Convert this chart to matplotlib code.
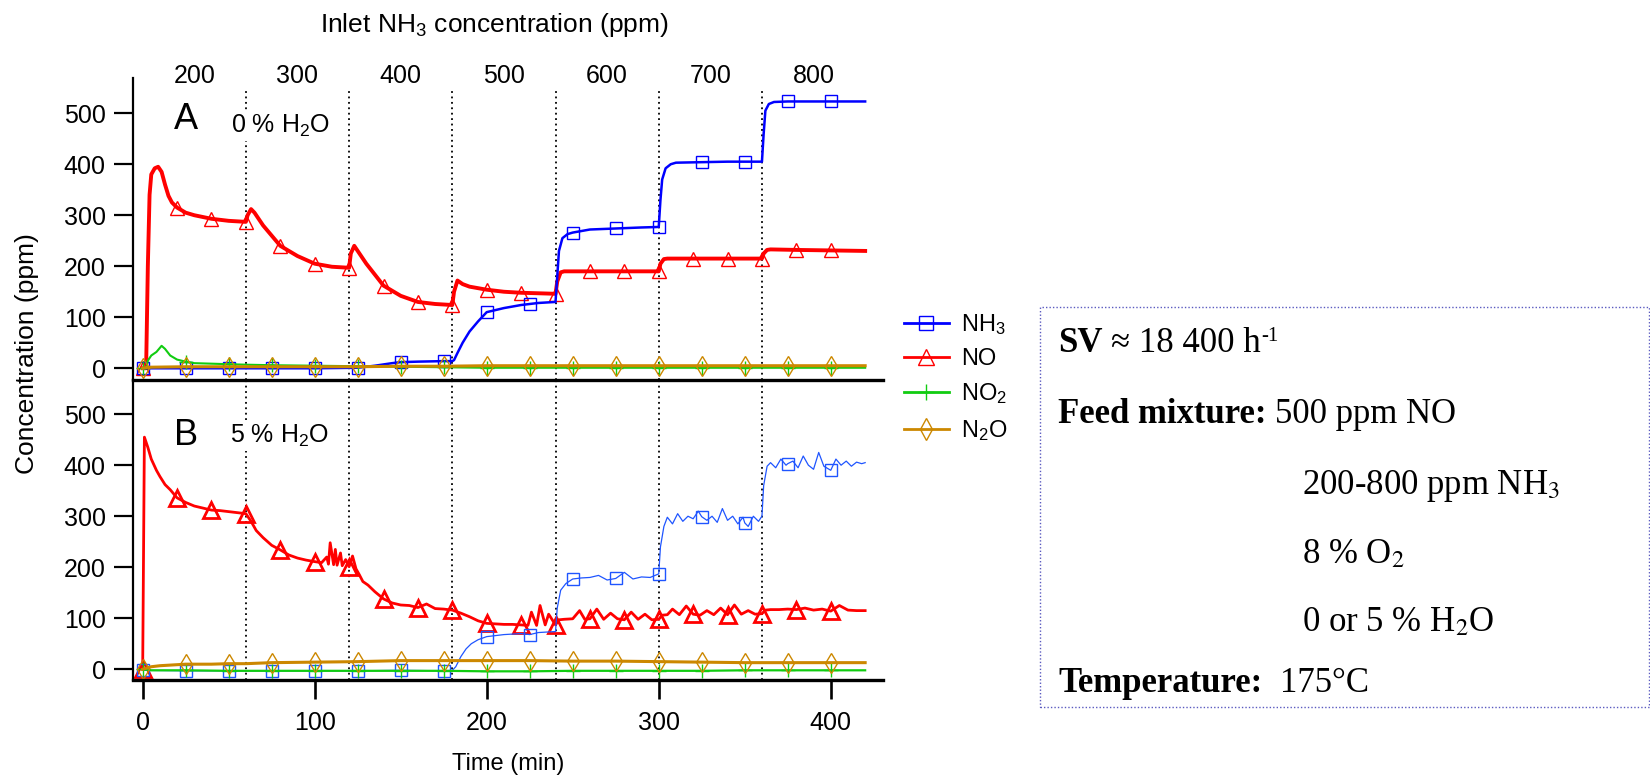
import numpy as np
import matplotlib
matplotlib.use("Agg")
import matplotlib.pyplot as plt
from matplotlib.lines import Line2D
from matplotlib.patches import Rectangle

# ---------------- data ----------------
inlet_labels = ["200", "300", "400", "500", "600", "700", "800"]
inlet_centers = [30, 90, 150, 210, 270, 330, 390]
step_times = [60, 120, 180, 240, 300, 360]

# Panel A (0 % H2O)
tA_nh3 = [0, 25, 50, 75, 100, 125, 135, 145, 150, 160, 175, 180, 181, 183, 186, 190, 195,
          200, 210, 220, 225, 230, 240, 241, 242, 244, 247, 250, 260, 275, 290, 300, 301,
          302, 304, 307, 310, 325, 340, 350, 360, 361, 362, 364, 367, 375, 400, 420]
yA_nh3 = [0, 0, 0, 0, 0, 1, 5, 10, 12, 13, 14, 14, 16, 30, 50, 72, 92,
          110, 118, 124, 126, 128, 130, 180, 230, 255, 263, 266, 272, 274, 276, 277, 330,
          370, 392, 400, 403, 404, 405, 405, 405, 460, 505, 518, 522, 523, 523, 523]

tA_no = [0, 2, 3, 4, 5, 7, 9, 11, 13, 15, 17, 20, 25, 30, 40, 50, 60, 61, 63, 65, 70, 80, 90,
         100, 110, 120, 121, 123, 125, 130, 140, 150, 160, 170, 180, 181, 183, 186, 190, 200,
         210, 220, 230, 240, 241, 243, 245, 260, 280, 300, 301, 303, 305, 320, 340, 360, 361,
         363, 365, 380, 400, 420]
yA_no = [0, 0, 200, 340, 380, 392, 395, 385, 360, 338, 325, 315, 305, 300, 293, 289, 287, 300,
         312, 305, 280, 240, 220, 205, 199, 197, 225, 240, 230, 205, 162, 142, 130, 126, 124,
         150, 172, 165, 160, 154, 150, 148, 147, 146, 170, 188, 190, 190, 190, 190, 205, 214,
         215, 215, 215, 215, 225, 232, 233, 232, 231, 230]

tA_no2 = [0, 2, 3, 5, 8, 11, 13, 16, 20, 25, 30, 40, 50, 60, 75, 100, 125, 150, 175, 200, 225,
          250, 275, 300, 325, 350, 375, 400, 420]
yA_no2 = [0, 0, 15, 25, 32, 44, 38, 25, 17, 13, 10, 9, 8, 7, 6, 5, 4, 3, 2, 1, 1,
          1, 1, 1, 1, 1, 1, 1, 1]

tA_n2o = [0, 3, 25, 50, 75, 100, 125, 150, 175, 200, 225, 250, 275, 300, 325, 350, 375, 400, 420]
yA_n2o = [0, 2, 3, 3, 3, 3, 3, 4, 4, 5, 5, 5, 5, 5, 5, 5, 5, 5, 5]

# Panel B (5 % H2O)
tB_nh3 = [0, 25, 50, 75, 100, 125, 150, 175, 180, 182, 185, 188, 191, 195, 200, 205, 210, 220,
          225, 230, 240, 241, 243, 246, 250, 255, 260, 265, 270, 275, 280, 285, 290, 295, 300,
          301, 303, 305, 308, 311, 314, 317, 320, 323, 325, 328, 331, 334, 337, 340, 343, 346,
          349, 350, 352, 355, 358, 360, 361, 363, 365, 368, 371, 374, 375, 378, 381, 384, 387,
          390, 393, 396, 400, 403, 406, 409, 412, 415, 418, 420]
yB_nh3 = [-2, -3, -3, -3, -3, -3, -2, -3, -2, 5, 25, 40, 50, 58, 64, 66, 68, 70,
          68, 72, 74, 120, 155, 168, 177, 179, 180, 184, 175, 178, 190, 177, 181, 180, 187,
          240, 280, 298, 285, 305, 290, 300, 295, 310, 299, 292, 300, 288, 315, 292, 300, 285,
          298, 287, 280, 300, 290, 300, 360, 398, 405, 395, 412, 400, 403, 408, 395, 418, 400,
          392, 425, 398, 390, 412, 400, 408, 398, 406, 403, 405]

tB_no = [0, 1, 3, 5, 8, 10, 13, 16, 20, 25, 30, 35, 40, 45, 50, 55, 60, 63, 66, 70, 75, 80, 85,
         90, 95, 100, 104, 107, 108, 109, 111, 112, 113, 115, 116, 118, 120, 122, 124, 126, 128,
         131, 135, 140, 145, 150, 155, 160, 165, 170, 175, 180, 185, 190, 195, 200, 205, 210,
         215, 220, 224, 226, 229, 231, 234, 236, 240, 242, 245, 250, 254, 257, 260, 264, 268,
         272, 276, 280, 284, 288, 292, 296, 300, 302, 305, 308, 312, 316, 320, 324, 328, 332,
         336, 340, 344, 348, 352, 356, 360, 362, 365, 370, 375, 380, 385, 390, 395, 400, 405,
         410, 415, 420]
yB_no = [0, 455, 435, 412, 390, 378, 362, 352, 336, 327, 320, 316, 312, 311, 309, 307, 305, 290,
         272, 258, 243, 234, 224, 218, 214, 211, 209, 220, 206, 248, 205, 235, 204, 228, 203,
         215, 201, 222, 197, 185, 172, 165, 152, 138, 130, 126, 125, 121, 128, 119, 118, 116,
         110, 103, 95, 90, 89, 88, 88, 87, 86, 112, 86, 125, 87, 108, 87, 97, 98, 99, 115, 98,
         99, 118, 98, 110, 99, 97, 112, 98, 108, 97, 98, 106, 107, 118, 107, 124, 108, 106, 115,
         107, 120, 107, 126, 108, 115, 108, 109, 116, 117, 117, 118, 117, 120, 116, 118, 114,
         125, 116, 115, 115]

tB_no2 = [0, 5, 25, 50, 75, 100, 125, 150, 175, 200, 225, 250, 275, 300, 325, 350, 375, 400, 420]
yB_no2 = [0, -2, -2, -3, -3, -3, -3, -3, -3, -4, -4, -3, -3, -3, -3, -2, -2, -2, -2]

tB_n2o = [0, 5, 10, 15, 25, 40, 50, 60, 75, 100, 125, 150, 175, 200, 225, 250, 275, 300, 325,
          350, 375, 400, 420]
yB_n2o = [0, 5, 7, 8, 10, 10, 11, 11, 13, 14, 15, 17, 17, 17, 17, 16, 16, 15, 14, 13, 13, 13, 13]

species = ["NH$_3$", "NO", "NO$_2$", "N$_2$O"]

# ---------------- style ----------------
plt.rcParams["font.family"] = ["Liberation Sans", "DejaVu Sans"]
plt.rcParams["mathtext.fontset"] = "custom"
plt.rcParams["mathtext.rm"] = "Liberation Sans"
plt.rcParams["mathtext.it"] = "Liberation Sans:italic"
plt.rcParams["mathtext.bf"] = "Liberation Sans:bold"

W, H = 1650, 778
fig = plt.figure(figsize=(W / 100, H / 100), dpi=100)


def px_axes(left, top, right, bottom):
    return fig.add_axes([left / W, 1 - bottom / H, (right - left) / W, (bottom - top) / H])


axA = px_axes(132.7, 78, 882.7, 380)
axB = px_axes(132.7, 380, 882.7, 680)

C_NH3 = "#0000ff"
C_NH3B = "#1f55ff"
C_NO = "#ff0000"
C_NO2 = "#11cc11"
C_N2O = "#cc8800"


def series(ax, t, y, color, lw, marker, ms, mew, every, z=2):
    t = np.asarray(t, float)
    y = np.asarray(y, float)
    idx = [i for i, v in enumerate(t) if v % every == 0 and v <= 400]
    ax.plot(t, y, color=color, lw=lw, marker=marker, ms=ms, mew=mew, mfc="none",
            mec=color, markevery=idx, zorder=z, solid_joinstyle="round")


# Panel A
series(axA, tA_nh3, yA_nh3, C_NH3, 1.8, "s", 8.5, 1.0, 25, 2.2)
series(axA, tA_no, yA_no, C_NO, 2.8, "^", 10, 1.0, 20, 2.1)
series(axA, tA_no2, yA_no2, C_NO2, 1.5, "+", 10, 1.0, 25, 2.3)
series(axA, tA_n2o, yA_n2o, C_N2O, 2.2, "d", 10, 1.0, 25, 2.4)

# Panel B
series(axB, tB_nh3, yB_nh3, C_NH3B, 0.9, "s", 8.5, 1.0, 25, 2.2)
series(axB, tB_no, yB_no, C_NO, 2.0, "^", 11.5, 2.0, 20, 2.1)
series(axB, tB_no2, yB_no2, C_NO2, 1.6, "+", 10, 1.0, 25, 2.3)
series(axB, tB_n2o, yB_n2o, C_N2O, 2.2, "d", 10, 1.0, 25, 2.4)

for ax, ylim in ((axA, (-23, 569)), (axB, (-21, 567))):
    ax.set_xlim(-5.8, 430.2)
    ax.set_ylim(*ylim)
    ax.set_yticks([0, 100, 200, 300, 400, 500])
    for s in ("top", "right"):
        ax.spines[s].set_visible(False)
    ax.spines["left"].set_linewidth(1.6)
    ax.spines["bottom"].set_linewidth(2.4)
    ax.tick_params(axis="y", direction="out", length=13.5, width=1.6, labelsize=18, pad=6)
    ax.set_facecolor("none")

axA.vlines(step_times, -23, 543, colors="k", linestyles=(0, (1, 2)), lw=1.3, zorder=1)
axB.vlines(step_times, -21, 567, colors="k", linestyles=(0, (1, 2)), lw=1.3, zorder=1)

axA.tick_params(axis="x", bottom=False, labelbottom=False)
axB.set_xticks([0, 100, 200, 300, 400])
axB.tick_params(axis="x", direction="out", length=13.5, width=1.9, labelsize=18, pad=8.5)
axB.spines["top"].set_visible(False)

# top inlet-concentration labels
for c, lab in zip(inlet_centers, inlet_labels):
    axA.text(c, 1.005, lab, transform=axA.get_xaxis_transform(), ha="center", va="center",
             fontsize=18)

# panel annotations
axA.text(25, 487, "A", fontsize=26, ha="center", va="center", zorder=5)
axA.text(51.5, 461, "0 % H$_2$O", fontsize=18, ha="left", va="baseline", zorder=5,
         bbox=dict(fc="white", ec="none", pad=1.5))
axB.text(25, 459, "B", fontsize=26, ha="center", va="center", zorder=5)
axB.text(51, 443, "5 % H$_2$O", fontsize=18, ha="left", va="baseline", zorder=5,
         bbox=dict(fc="white", ec="none", pad=1.5))

# axis titles
fig.text(494 / W, 1 - 32 / H, "Inlet NH$_3$ concentration (ppm)", ha="center",
         va="baseline", fontsize=19)
fig.text(508.5 / W, 1 - 770 / H, "Time (min)", ha="center", va="baseline", fontsize=17)
fig.text(26.7 / W, 1 - 354 / H, "Concentration (ppm)", ha="center", va="center",
         rotation=90, fontsize=19)

# legend
handles = [
    Line2D([], [], color=C_NH3, lw=2.0, marker="s", ms=10, mfc="none", mec=C_NH3, mew=1.0),
    Line2D([], [], color=C_NO, lw=2.0, marker="^", ms=11, mfc="none", mec=C_NO, mew=1.0),
    Line2D([], [], color=C_NO2, lw=2.0, marker="+", ms=12, mfc="none", mec=C_NO2, mew=1.0),
    Line2D([], [], color=C_N2O, lw=2.0, marker="d", ms=11, mfc="none", mec=C_N2O, mew=1.0),
]
fig.legend(handles, species, loc="upper left", bbox_to_anchor=(904 / W, 1 - 312 / H),
           frameon=False, fontsize=17, handlelength=1.9, handletextpad=0.5,
           labelspacing=0.48, borderaxespad=0, borderpad=0)

# info box
fig.patches.append(Rectangle((1040 / W, 1 - 707 / H), (1649 - 1040) / W, (707 - 307) / H,
                             transform=fig.transFigure, fill=False, ec="#5a5ac0",
                             lw=1.0, ls=(0, (1, 1.5))))
serif = ["Liberation Serif", "DejaVu Serif"]
FS = 25
space_px = 0.25 * FS * 100 / 72
renderer = fig.canvas.get_renderer()


def rich_line(x_px, y_px, parts):
    """parts: (text, bold, gap_in_spaces, fontsize, rise_px)"""
    x = x_px
    for s, bold, gap, fs, rise in parts:
        t = fig.text(x / W, 1 - (y_px - rise) / H, s, fontweight="bold" if bold else "normal",
                     fontsize=fs, family=serif, math_fontfamily="stix", va="baseline",
                     ha="left")
        x += t.get_window_extent(renderer=renderer).width + gap * space_px


rich_line(1058, 352, [("SV", True, 1, FS, 0), ("≈ 18 400 h", False, 0, FS, 0),
                      ("-1", False, 0, 15, 11)])
rich_line(1058, 423, [("Feed mixture:", True, 1, FS, 0), ("500 ppm NO", False, 0, FS, 0)])
rich_line(1302, 494, [("200-800 ppm NH$_3$", False, 0, FS, 0)])
rich_line(1302, 563, [("8 % O$_2$", False, 0, FS, 0)])
rich_line(1302, 631, [("0 or 5 % H$_2$O", False, 0, FS, 0)])
rich_line(1058, 692, [("Temperature:", True, 2, FS, 0), ("175°C", False, 0, FS, 0)])

fig.savefig("out.png", dpi=100)
